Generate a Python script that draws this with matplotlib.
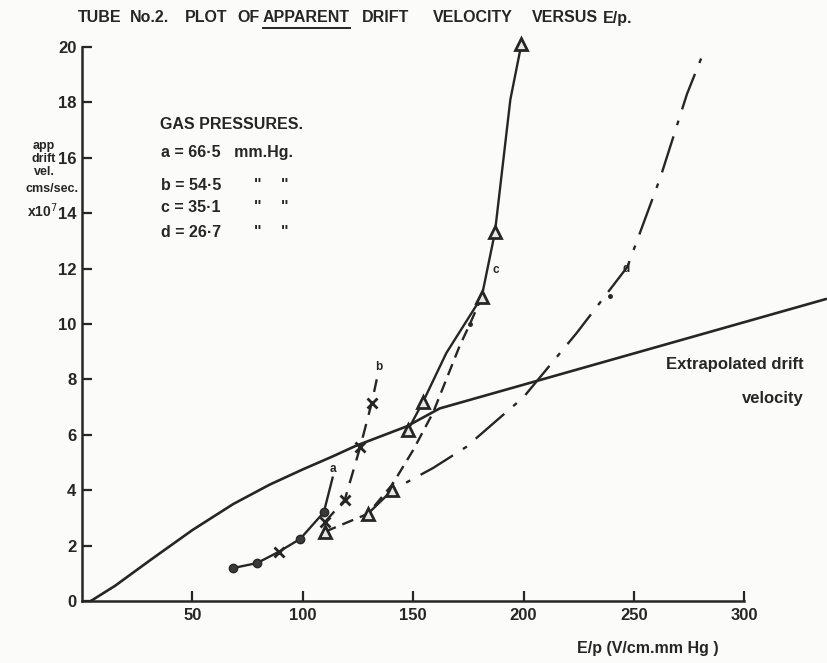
import matplotlib.pyplot as plt

# --- values ---
# extrapolated drift velocity (solid curve)
ep_drift = [4, 15, 31, 50, 68.5, 85, 100, 113, 124, 147, 162, 337]
v_drift = [0, 0.55, 1.48, 2.56, 3.5, 4.2, 4.75, 5.2, 5.6, 6.3, 6.95, 10.9]

# a = 66.5 mm Hg (filled circles)
ep_a = [68.5, 79.3, 89, 98.8, 109.5, 113.5]
v_a = [1.19, 1.37, 1.77, 2.24, 3.2, 4.45]
ep_a_pts = [68.5, 79.3, 98.8, 109.5]
v_a_pts = [1.19, 1.37, 2.24, 3.2]

# b = 54.5 mm Hg (crosses, dashed)
ep_b = [110, 119, 126, 131.2, 133.5]
v_b = [2.85, 3.65, 5.56, 7.15, 8.0]
ep_b_pts = [89, 110, 119, 126, 131.2]
v_b_pts = [1.77, 2.85, 3.65, 5.56, 7.15]

# c = 35.1 mm Hg (triangles, solid upper branch + dashed lower branch)
ep_c = [147.6, 154.4, 165, 181, 187, 194, 199]
v_c = [6.17, 7.18, 8.95, 10.97, 13.3, 18.1, 20.1]
ep_c_pts = [110, 147.6, 154.4, 181, 187, 199]
v_c_pts = [2.5, 6.17, 7.18, 10.97, 13.3, 20.1]
ep_c2 = [110, 129.5, 140.5, 150, 159, 171, 175.7, 181]
v_c2 = [2.5, 3.15, 4.2, 5.45, 6.8, 9.2, 10.0, 10.97]

# d = 26.7 mm Hg (dash-dot)
ep_d = [129.5, 140.5, 159, 174, 200, 224, 247, 262, 274, 282]
v_d = [3.15, 4.0, 4.8, 5.56, 7.36, 9.67, 12.06, 15.3, 18.3, 19.9]
ep_d_pts = [129.5, 140.5]
v_d_pts = [3.15, 4.0]

dots_x = [175.7, 239]
dots_y = [10.0, 11.0]

x_ticks = [50, 100, 150, 200, 250, 300]
y_ticks = [0, 2, 4, 6, 8, 10, 12, 14, 16, 18, 20]

title_words = ['TUBE', 'No.2.', 'PLOT', 'OF', 'APPARENT', 'DRIFT', 'VELOCITY', 'VERSUS', 'E/p.']
title_x = [78, 130, 185, 237, 263, 362, 433, 532, 603]

ink = '#262626'
plt.rcParams['font.family'] = ['Liberation Sans', 'DejaVu Sans']
W, H = 827, 663

fig = plt.figure(figsize=(W / 100, H / 100), dpi=100, facecolor='#fbfbf9')
ax = fig.add_axes([82 / W, (H - 601) / H, (W - 82) / W, (601 - 33) / H])
ax.set_facecolor('none')
ax.set_xlim(0, 337.4)
ax.set_ylim(0, 20.5)

for s in ['top', 'right']:
    ax.spines[s].set_visible(False)
ax.spines['left'].set_bounds(0, 20)
ax.spines['bottom'].set_bounds(0, 300)
for s in ['left', 'bottom']:
    ax.spines[s].set_linewidth(1.8)
    ax.spines[s].set_color(ink)

ax.set_xticks(x_ticks)
ax.set_yticks(y_ticks)
ax.tick_params(direction='in', length=7, width=1.6, colors=ink, labelsize=12)
ax.tick_params(axis='y', pad=4)
ax.tick_params(axis='x', pad=5)
for lbl in ax.get_xticklabels() + ax.get_yticklabels():
    lbl.set_fontweight('bold')

lw = 1.7
# curves
ax.plot(ep_drift, v_drift, color=ink, lw=lw + 0.2, clip_on=False, solid_capstyle='round')
ax.plot(ep_a, v_a, color=ink, lw=lw)
ax.plot(ep_b, v_b, color=ink, lw=lw, dashes=(6, 4))
ax.plot(ep_c, v_c, color=ink, lw=lw, clip_on=False)
ax.plot(ep_c2, v_c2, color=ink, lw=lw, dashes=(5, 3))
ax.plot(ep_d, v_d, color=ink, lw=lw, dashes=(16, 5, 2, 5))

# markers
ax.plot(ep_a_pts, v_a_pts, 'o', ms=6, color='#3a3a3a', mec=ink)
ax.plot(ep_b_pts, v_b_pts, 'x', ms=7, mew=2, color=ink)
ax.plot(ep_c_pts, v_c_pts, '^', ms=8, mfc='#e8e8e4', mec=ink, mew=2, clip_on=False)
ax.plot(ep_d_pts, v_d_pts, '^', ms=8, mfc='#e8e8e4', mec=ink, mew=2)
ax.plot(dots_x, dots_y, '.', ms=5, color=ink)

# curve letters
tk = dict(color=ink, fontsize=8.5, fontweight='bold', ha='center', va='center')
ax.text(113.7, 4.75, 'a', **tk)
ax.text(134.5, 8.45, 'b', **tk)
ax.text(187.5, 11.95, 'c', **tk)
ax.text(246.6, 12.0, 'd', **tk)

# legend block
lk = dict(color=ink, fontsize=11.5, fontweight='bold', ha='left', va='center')
ax.text(35.5, 17.2, 'GAS PRESSURES.', **lk)
ax.text(36, 16.2, 'a = 66·5   mm.Hg.', **lk)
ax.text(36, 15.0, 'b = 54·5', **lk)
ax.text(36, 14.2, 'c = 35·1', **lk)
ax.text(36, 13.3, 'd = 26·7', **lk)
for yy in [15.0, 14.2, 13.3]:
    ax.text(78, yy, '"', **lk)
    ax.text(90, yy, '"', **lk)

ek = dict(color=ink, fontsize=12, fontweight='bold', ha='right', va='center', clip_on=False)
ax.text(327, 8.55, 'Extrapolated drift', **ek)
ax.text(327, 7.3, 'velocity', **ek)

# y-axis label
yk = dict(color=ink, fontsize=9, fontweight='bold', ha='center', va='center')
fig.text(44 / W, 1 - 146 / H, 'app', **yk)
fig.text(44 / W, 1 - 159 / H, 'drift', **yk)
fig.text(44 / W, 1 - 172 / H, 'vel.', **yk)
fig.text(52 / W, 1 - 189 / H, 'cms/sec.', **yk)
fig.text(42 / W, 1 - 211 / H, r'x10$^7$', color=ink, fontsize=10, fontweight='bold',
         ha='center', va='center')

# x-axis label
fig.text(648 / W, 1 - 648 / H, 'E/p (V/cm.mm Hg )', color=ink, fontsize=11.5,
         fontweight='bold', ha='center', va='center')

# title, word by word, with APPARENT underlined
renderer = fig.canvas.get_renderer()
ty = 1 - 18 / H
for word, wx in zip(title_words, title_x):
    t = fig.text(wx / W, ty, word, color=ink, fontsize=11.5, fontweight='bold',
                 ha='left', va='center')
    if word == 'APPARENT':
        bb = t.get_window_extent(renderer)
        fig.add_artist(plt.Line2D([bb.x0 / W, bb.x1 / W], [(H - 28) / H, (H - 28) / H],
                                  color=ink, lw=1.4))

fig.savefig('out.png', dpi=100, facecolor=fig.get_facecolor())
